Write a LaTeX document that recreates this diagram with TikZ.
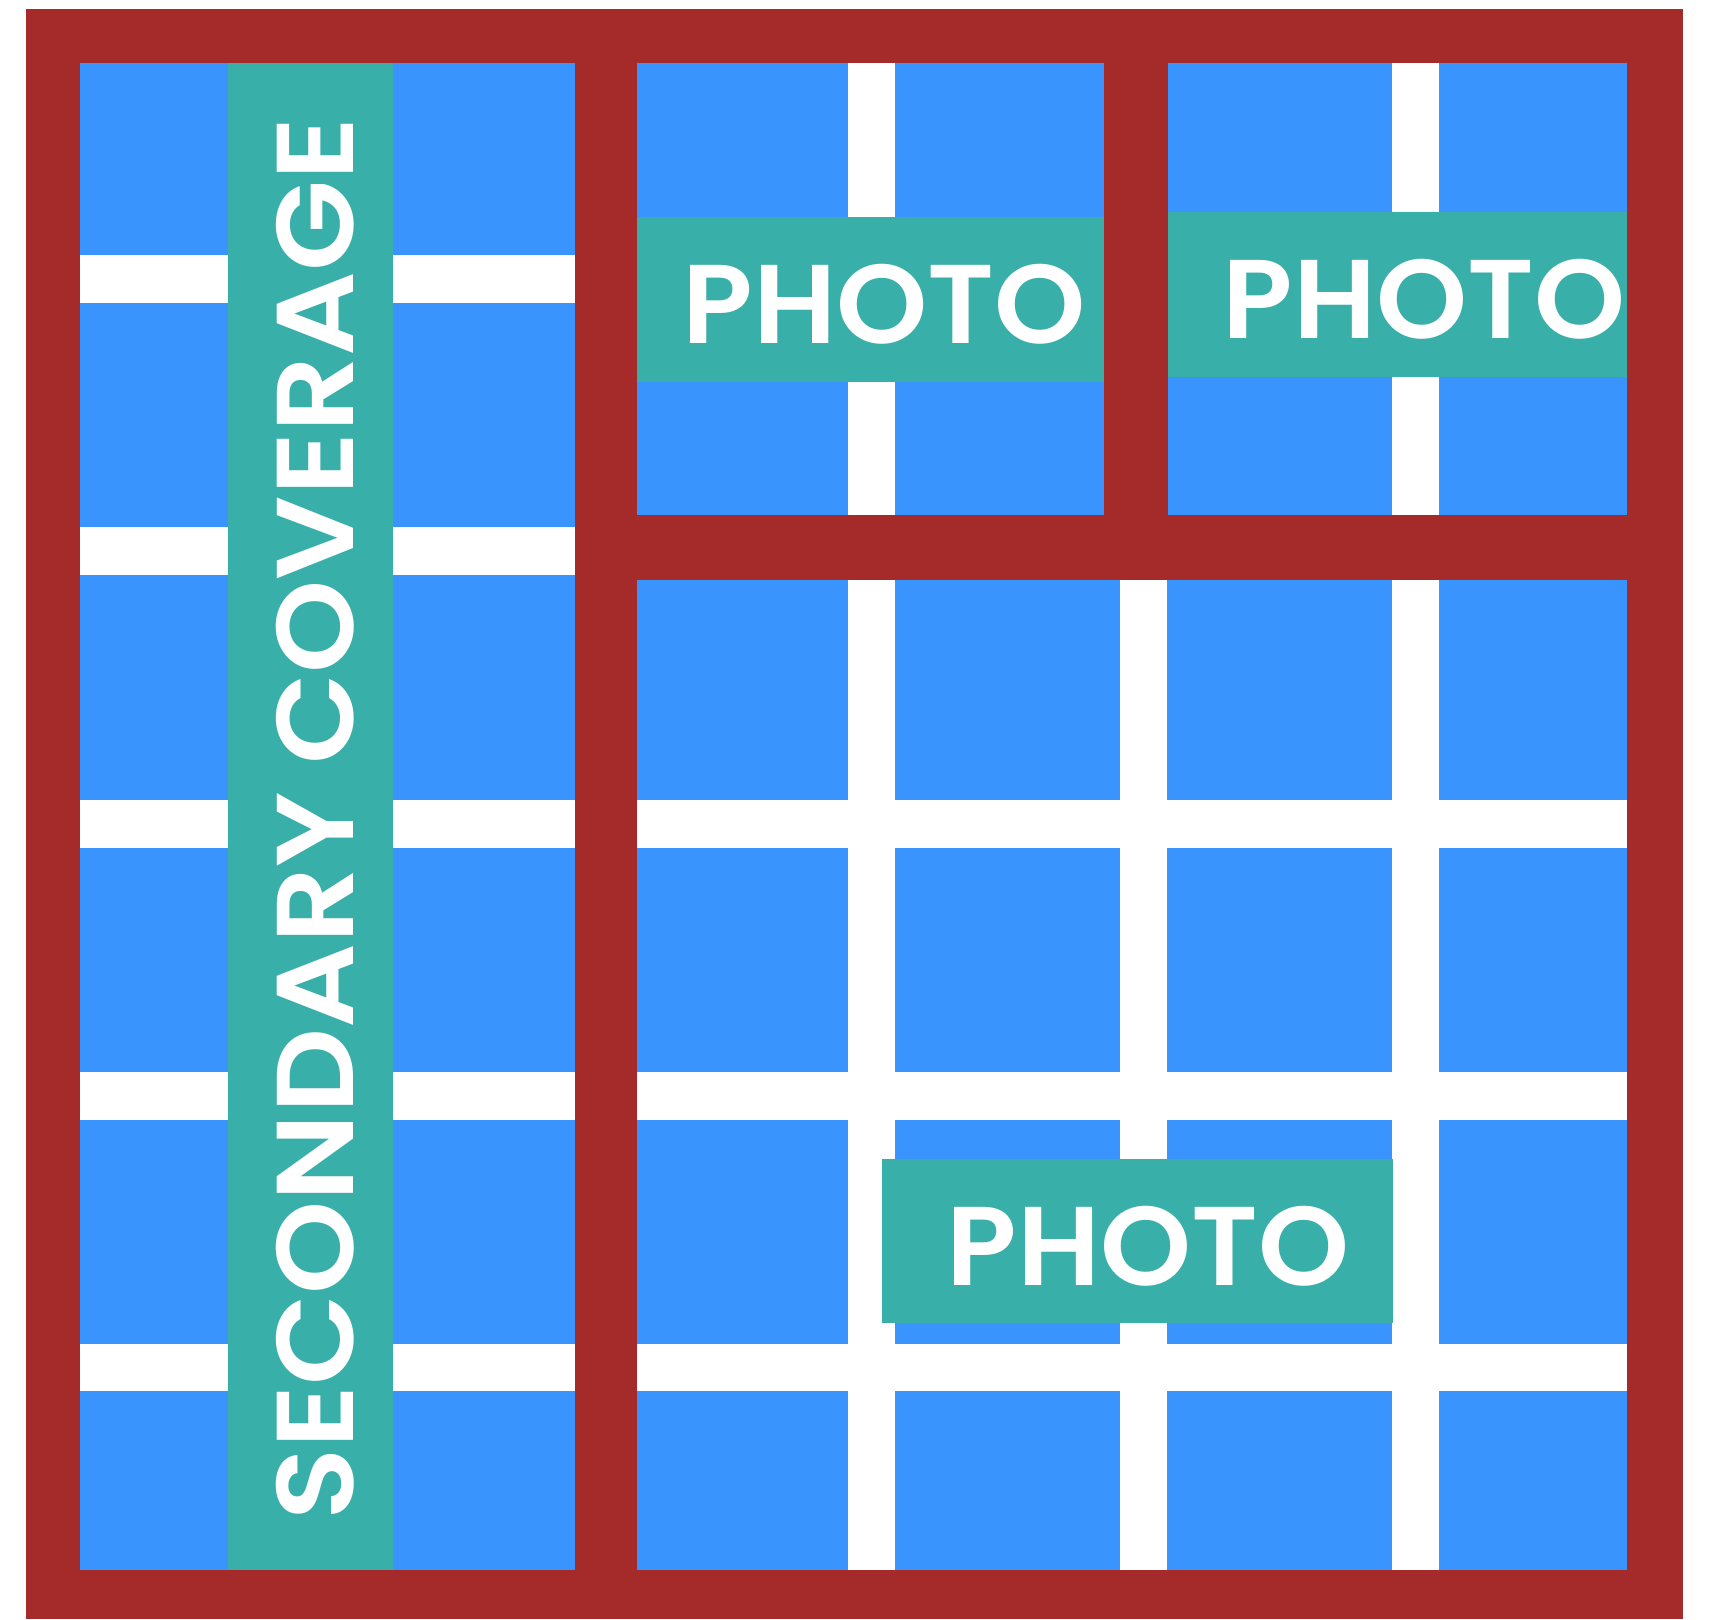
\documentclass[tikz,border=0pt]{standalone}
\usepackage{fontspec}
\newfontfamily\popfont{Poppins}[BoldFont={Poppins SemiBold}]
\usepackage{graphicx}
\definecolor{framered}{HTML}{A52A2A}
\definecolor{tileblue}{HTML}{3994FE}
\definecolor{labelteal}{HTML}{38AFA9}
\begin{document}
\begin{tikzpicture}[x=0.01cm,y=-0.01cm,
  redbar/.style={fill=framered, draw=none},
  gridline/.style={white, line width=0.47cm},
  tealbox/.style={rectangle, fill=labelteal, draw=none, inner sep=0pt, outer sep=0pt},
  labeltext/.style={text=white, inner sep=0pt, font=\popfont\bfseries}]
\useasboundingbox (0,0) rectangle (1710,1619);
\fill[white] (0,0) rectangle (1710,1619);
% blue panels
\fill[tileblue] (80,63) rectangle (1627,1570);
% white grid
\begin{scope}
\clip (80,63) rectangle (1627,1570);
\foreach \y in {279,551,824,1096,1367} \draw[gridline] (80,\y) -- (1627,\y);
\foreach \x in {327,599,871,1143,1415} \draw[gridline] (\x,63) -- (\x,1570);
\end{scope}
% red frame and dividers
\fill[redbar] (26,9) rectangle (1683,63);
\fill[redbar] (26,1570) rectangle (1683,1619);
\fill[redbar] (26,9) rectangle (80,1619);
\fill[redbar] (1627,9) rectangle (1683,1619);
\fill[redbar] (575,9) rectangle (637,1570);
\fill[redbar] (575,515) rectangle (1627,580);
\fill[redbar] (1104,9) rectangle (1168,515);
% teal label boxes
\node[tealbox, minimum width=1.65cm, minimum height=15.07cm] (stripS) at (310.5,816.5) {};
\node[tealbox, minimum width=4.67cm, minimum height=1.65cm] (photoA) at (870.5,299.5) {};
\node[tealbox, minimum width=4.59cm, minimum height=1.65cm] (photoB) at (1397.5,294.5) {};
\node[tealbox, minimum width=5.11cm, minimum height=1.64cm] (photoC) at (1137.5,1241) {};
% texts
\node[labeltext, rotate=90] (textS) at (315,819) {\resizebox*{14.02cm}{0.78cm}{SECONDARY COVERAGE}};
\node[labeltext] (textA) at (884.5,304) {\resizebox*{4.03cm}{0.80cm}{PHOTO}};
\node[labeltext] (textB) at (1424,299.5) {\resizebox*{4.02cm}{0.80cm}{PHOTO}};
\node[labeltext] (textC) at (1148,1246) {\resizebox*{4.02cm}{0.80cm}{PHOTO}};
\end{tikzpicture}
\end{document}
